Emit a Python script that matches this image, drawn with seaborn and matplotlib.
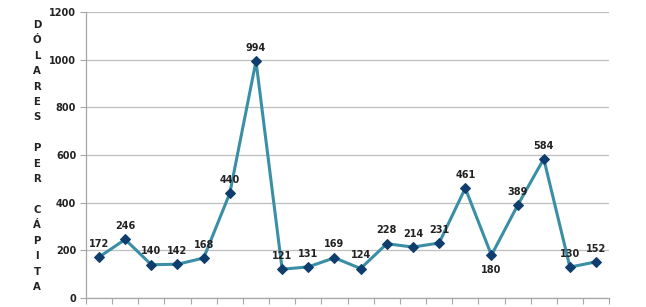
import matplotlib
matplotlib.use("Agg")
import matplotlib.pyplot as plt
import seaborn as sns
import pandas as pd
import numpy as np

positions = list(range(1, 21))
values = [172, 246, 140, 142, 168, 440, 994, 121, 131, 169, 124, 228, 214, 231, 461, 180, 389, 584, 130, 152]
below_labels = [180]
y_ticks = [0, 200, 400, 600, 800, 1000, 1200]
ylabel_words = ["DÓLARES", "PER", "CÁPITA"]

sns.set_theme(style="white")
plt.rcParams['font.family'] = ['DejaVu Sans']

df = pd.DataFrame({"pos": positions, "val": values})

fig = plt.figure(figsize=(6.46, 3.07), dpi=100)
ax = fig.add_axes([0.133, 0.029, 0.810, 0.932])

sns.lineplot(data=df, x="pos", y="val", ax=ax, color="#3A8FA6", linewidth=2.2,
             marker="D", markersize=5, markerfacecolor="#0F3D6E", markeredgecolor="#0F3D6E")

for i, (p, v) in enumerate(zip(positions, values)):
    if v in below_labels:
        ax.annotate(str(v), (p, v), xytext=(0, -7), textcoords="offset points",
                    ha="center", va="top", fontsize=7, fontweight="bold", color="#222222")
    else:
        ax.annotate(str(v), (p, v), xytext=(0, 6), textcoords="offset points",
                    ha="center", va="bottom", fontsize=7, fontweight="bold", color="#222222")

ax.set_ylim(0, 1200)
ax.set_xlim(positions[0] - 0.5, positions[-1] + 0.5)
ax.set_yticks(y_ticks)
ax.set_yticklabels([str(t) for t in y_ticks], fontsize=7, fontweight="bold", color="#222222")
ax.set_xticks(np.arange(positions[0] - 0.5, positions[-1] + 1.0, 1.0))
ax.set_xticklabels([])
ax.grid(axis="y", color="#BFBFBF", linewidth=0.9)
ax.set_axisbelow(True)
ax.tick_params(axis="x", direction="out", length=4, color="#A6A6A6", width=0.8, bottom=True)
ax.tick_params(axis="y", direction="out", length=4, color="#A6A6A6", width=0.8, left=True, pad=3)
for s in ["top", "right"]:
    ax.spines[s].set_visible(False)
for s in ["left", "bottom"]:
    ax.spines[s].set_color("#A6A6A6")
    ax.spines[s].set_linewidth(0.9)
ax.set_xlabel("")
ax.set_ylabel("")

label_text = "\n\n".join("\n".join(w) for w in ylabel_words)
fig.text(37 / 646, 1 - 156 / 307, label_text, ha="center", va="center", fontsize=7.3,
         fontweight="bold", color="#222222", linespacing=1.68)

fig.savefig("out.png", dpi=100)
